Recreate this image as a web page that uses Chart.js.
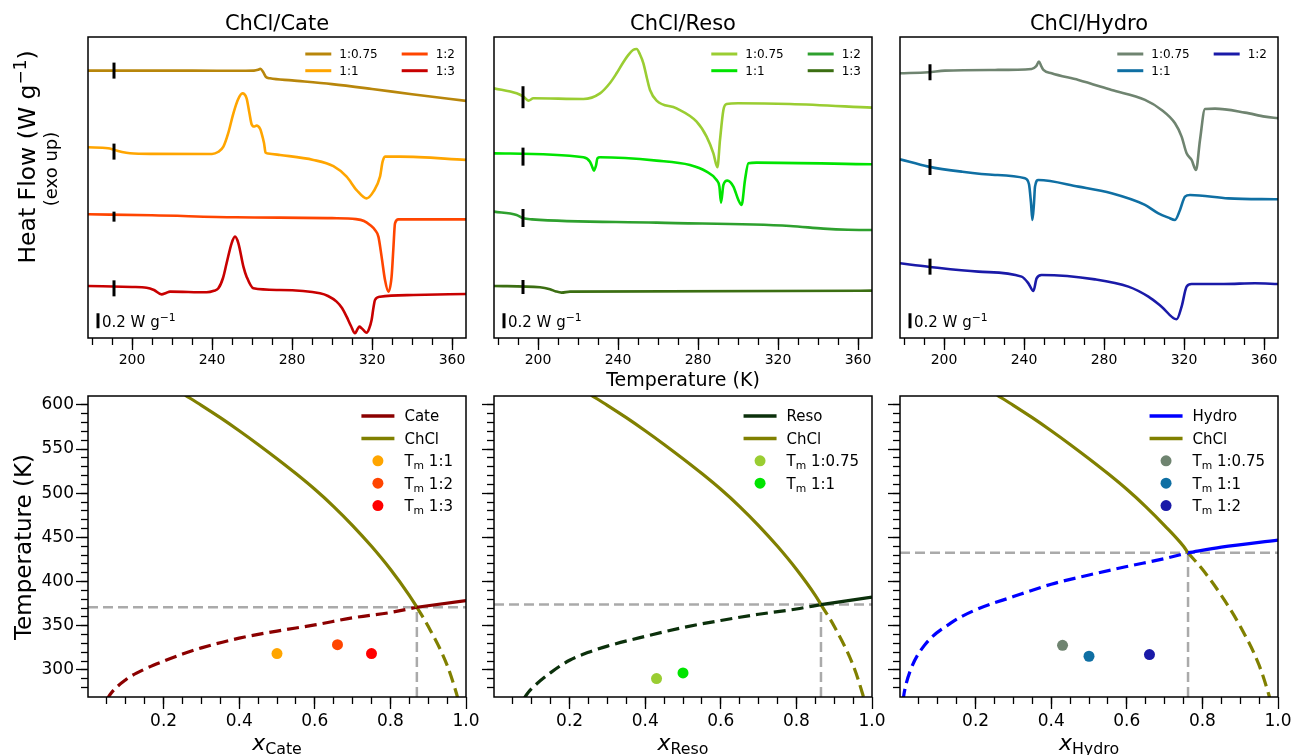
<!DOCTYPE html>
<html>
<head>
<meta charset="utf-8">
<script src="https://cdn.jsdelivr.net/npm/chart.js@4.4.1/dist/chart.umd.min.js"></script>
<style>
  body { margin: 0; background: #fff; width: 1293px; height: 755px; overflow: hidden; position: relative; }
  .panel { position: absolute; }
</style>
</head>
<body>
<script>
// ---- tick positions ----
const tempMajor = [200, 240, 280, 320, 360];
const tempMinor = [180, 190, 200, 210, 220, 230, 240, 250, 260, 270, 280, 290, 300, 310, 320, 330, 340, 350, 360];
const xMajor = [0.2, 0.4, 0.6, 0.8, 1.0];
const xMinor = [0.05, 0.1, 0.15, 0.2, 0.25, 0.3, 0.35, 0.4, 0.45, 0.5, 0.55, 0.6, 0.65, 0.7, 0.75, 0.8, 0.85, 0.9, 0.95];
const tMajor = [300, 350, 400, 450, 500, 550, 600];
const tMinor = [280, 290, 300, 310, 320, 330, 340, 350, 360, 370, 380, 390, 400, 410, 420, 430, 440, 450,
                460, 470, 480, 490, 500, 510, 520, 530, 540, 550, 560, 570, 580, 590, 600];

// ---- DSC traces: [T (K), heat flow (W/g, stacked offset)] ----
const cateRatios = ['1:0.75', '1:1', '1:2', '1:3'];
const cate075 = [[178,3.565],[200,3.565],[230,3.565],[255,3.563],[261,3.565],[263,3.575],[264.2,3.59],[265.5,3.55],
  [267,3.48],[269,3.462],[280,3.435],[300,3.385],[320,3.32],[340,3.25],[367.5,3.16]];
const cate11 = [[178,2.543],[188,2.53],[191,2.51],[195,2.48],[199,2.463],[210,2.455],[240,2.454],[243,2.48],[245.7,2.551],
  [248,2.72],[250.7,2.996],[253,3.18],[255.2,3.262],[257.3,3.196],[258.7,3.0],[259.8,2.85],[261,2.82],[262.3,2.831],
  [264,2.79],[264.8,2.729],[266,2.6],[266.8,2.471],[268,2.46],[274,2.44],[290.7,2.374],[300.7,2.29],[307.3,2.151],
  [312.3,1.973],[317.3,1.862],[320.7,1.951],[324,2.151],[325.3,2.351],[326.5,2.418],[334,2.418],[367.5,2.374]];
const cate12 = [[178,1.649],[210,1.636],[252,1.609],[300,1.598],[312,1.585],[316,1.56],[319,1.507],[321.5,1.44],
  [323.2,1.351],[324.8,1.085],[326.5,0.774],[328.2,0.618],[329.8,0.818],[330.7,1.2],[331.5,1.529],[333.2,1.582],[367.5,1.582]];
const cate13 = [[178,0.694],[200,0.68],[207.3,0.671],[211,0.64],[214.8,0.582],[217,0.6],[219,0.618],[237.3,0.609],
  [241,0.63],[243.2,0.662],[245.5,0.8],[247.3,0.996],[249.8,1.262],[251.5,1.351],[253.2,1.262],[255.7,0.951],
  [257.3,0.818],[260.7,0.662],[274,0.64],[294,0.596],[298,0.56],[302.3,0.485],[305,0.4],[307.3,0.285],[309.5,0.16],
  [311.5,0.063],[312.8,0.12],[313.7,0.151],[314.8,0.13],[315.7,0.107],[317.3,0.071],[318.5,0.12],[319.8,0.24],
  [320.7,0.4],[321.5,0.507],[324,0.551],[340.7,0.573],[367.5,0.587]];
const cateMarkT = 191;
const cateMarkQ = [3.565, 2.485, 1.618, 0.662];

const resoRatios = ['1:0.75', '1:1', '1:2', '1:3'];
const reso075 = [[178,3.329],[189.3,3.262],[192.7,3.218],[195.2,3.165],[197.7,3.196],[222.7,3.187],[231,3.262],[236,3.4],
  [239.3,3.529],[242.5,3.67],[245.2,3.774],[247.5,3.84],[249.3,3.853],[251,3.78],[252.7,3.662],[254.5,3.46],[256,3.307],
  [259.3,3.165],[269.3,3.062],[279.3,2.885],[284.3,2.685],[287.7,2.462],[289.7,2.276],[291,2.64],[292.7,3.04],
  [294.3,3.12],[300,3.13],[326,3.12],[367,3.071]];
const reso11 = [[178,2.462],[222.7,2.409],[226,2.351],[227,2.29],[228,2.231],[229,2.3],[229.7,2.396],[231,2.409],
  [259.3,2.365],[276,2.307],[284.3,2.218],[289.3,2.107],[290.7,2.018],[291.5,1.805],[292.7,2.04],[294.7,2.098],
  [297.7,2.018],[300.2,1.84],[301.8,1.773],[303.5,2.107],[305.2,2.329],[309.3,2.338],[367,2.316]];
const reso12 = [[178,1.685],[189.3,1.64],[192.7,1.596],[197,1.582],[259.3,1.538],[326,1.494],[342.7,1.458],[355,1.443],[367,1.44]];
const reso13 = [[178,0.694],[201,0.676],[206,0.65],[209,0.62],[211.8,0.605],[216,0.618],[367,0.631]];
const resoMarkT = 192.5;
const resoMarkQ = [3.21, 2.418, 1.6, 0.68];

const hydroRatios = ['1:0.75', '1:1', '1:2'];
const hydro075 = [[178,3.529],[192.2,3.543],[200.5,3.565],[225.5,3.574],[243.8,3.587],[246,3.62],[247.5,3.685],[248.7,3.62],
  [249.7,3.574],[253.8,3.529],[267.2,3.44],[283.8,3.307],[300.5,3.174],[308.8,3.04],[315.5,2.862],[318.8,2.685],
  [321.3,2.462],[323.8,2.374],[326,2.24],[328,2.64],[330.5,3.054],[335.5,3.058],[350.5,3.005],[360.5,2.951],[367,2.929]];
const hydro11 = [[178,2.382],[192.2,2.285],[208.8,2.218],[225.5,2.174],[240.5,2.129],[242.5,2.05],[243.5,1.8],[244.2,1.574],
  [245,1.8],[245.5,2.018],[247.2,2.107],[267.2,2.018],[283.8,1.929],[300.5,1.774],[307.2,1.662],[312.2,1.605],
  [315.5,1.574],[318,1.707],[320.5,1.885],[323,1.907],[342.2,1.862],[367,1.849]];
const hydro12 = [[178,0.996],[192.2,0.951],[217.2,0.885],[238.8,0.818],[242.2,0.729],[244.7,0.627],[246.3,0.796],
  [248.8,0.84],[275.5,0.782],[292.2,0.685],[302.2,0.551],[308.8,0.418],[316.3,0.249],[318.8,0.418],[321.3,0.685],
  [323.8,0.72],[340,0.72],[355.5,0.729],[367,0.72]];
const hydroMarkT = 193;
const hydroMarkQ = [3.543, 2.28, 0.951];

// 0.2 W/g scale bar
const barT = 183;
const barLo = 0.13;
const barSize = 0.2;

// ---- solid-liquid equilibria: [x_HBD, T (K)] ----
const chclLiq = [[0.257,611],[0.3,599.5],[0.35,585.5],[0.4,570.7],[0.45,555.2],[0.5,539],[0.55,522.2],[0.6,504.4],
  [0.65,484.9],[0.7,463.4],[0.75,439.9],[0.8,413.9],[0.85,384.4],[0.9,349.4],[0.95,305.4],[0.975,273],[0.985,257]];
const cateLiq = [[0.05,266],[0.058,272],[0.1,289],[0.15,301],[0.2,310],[0.25,318],[0.3,325],[0.4,336],[0.5,344],[0.6,351],
  [0.7,359],[0.8,365],[1.0,378.5]];
const resoLiq = [[0.08,268],[0.086,272],[0.1,279],[0.15,297],[0.2,311],[0.25,320],[0.3,327],[0.4,338],[0.5,348],[0.6,356],
  [0.7,363],[0.8,369],[1.0,382.5]];
const hydroLiq = [[0.008,265],[0.011,274],[0.028,300],[0.063,327],[0.134,353],[0.2,368],[0.3,383],[0.4,397],[0.5,407.5],
  [0.6,417],[0.7,426],[0.85,439],[1.0,447]];
const cateEu = { x: 0.87, T: 371 };
const resoEu = { x: 0.865, T: 374 };
const hydroEu = { x: 0.762, T: 432.5 };
const cateTm = [[0.5,318.5],[0.66,328.6],[0.75,318.5]];
const cateTmRatios = ['1:1', '1:2', '1:3'];
const resoTm = [[0.43,290.2],[0.5,296.6]];
const resoTmRatios = ['1:0.75', '1:1'];
const hydroTm = [[0.43,327.9],[0.5,315.5],[0.66,317.4]];
const hydroTmRatios = ['1:0.75', '1:1', '1:2'];

// ---- colours ----
const cateColors = ['#B8860B', '#FFA500', '#FF4500', '#C80000'];
const resoColors = ['#9ACD32', '#00E400', '#2EA02E', '#3B6E12'];
const hydroColors = ['#6F8470', '#0F6FA3', '#1A1AA8'];
const chclColor = '#808000';

Chart.defaults.font.family = '"DejaVu Sans", sans-serif';
const PW = 378, PH = 301;
const colX = [88, 494, 900];
const T_MIN = 269.4, T_MAX = 610;

// rich text: "_{..}" subscript, "^{..}" superscript
function parseRich(s) {
  const out = [];
  const re = /([_^])\{([^}]*)\}/g;
  let last = 0, m;
  while ((m = re.exec(s))) {
    if (m.index > last) out.push({ t: s.slice(last, m.index) });
    out.push({ t: m[2], sub: m[1] === '_', sup: m[1] === '^' });
    last = re.lastIndex;
  }
  if (last < s.length) out.push({ t: s.slice(last) });
  return out;
}
function partFont(p, size) {
  const s = (p.sub || p.sup) ? size * 0.72 : size;
  return (p.it ? 'italic ' : '') + s + 'px "DejaVu Sans"';
}
function richWidth(ctx, parts, size) {
  let w = 0;
  parts.forEach(p => { ctx.font = partFont(p, size); w += ctx.measureText(p.t).width; });
  return w;
}
function drawRich(ctx, parts, x, y, size, align) {
  const w = richWidth(ctx, parts, size);
  let cx = align === 'center' ? x - w / 2 : align === 'right' ? x - w : x;
  ctx.textAlign = 'left';
  ctx.textBaseline = 'alphabetic';
  parts.forEach(p => {
    ctx.font = partFont(p, size);
    const dy = p.sub ? size * 0.2 : p.sup ? -size * 0.4 : 0;
    ctx.fillText(p.t, cx, y + dy);
    cx += ctx.measureText(p.t).width;
  });
}

// frame, free text and in-axes legend
const deco = {
  id: 'deco',
  afterDraw(chart, args, o) {
    const ctx = chart.ctx, a = chart.chartArea;
    ctx.save();
    ctx.strokeStyle = '#000';
    ctx.lineWidth = 1.5;
    ctx.setLineDash([]);
    ctx.strokeRect(a.left, a.top, a.right - a.left, a.bottom - a.top);
    ctx.fillStyle = '#000';
    (o.notes || []).forEach(n => {
      const parts = typeof n.text === 'string' ? parseRich(n.text) : n.text;
      ctx.save();
      ctx.translate(a.left + n.x, a.top + n.y);
      if (n.rot) ctx.rotate(-Math.PI / 2);
      drawRich(ctx, parts, 0, 0, n.size, n.align || 'center');
      ctx.restore();
    });
    const lg = o.legend;
    if (lg) {
      const items = chart.data.datasets.filter(d => d.legendLabel);
      const rows = Math.ceil(items.length / lg.cols);
      const cols = [];
      for (let c = 0; c < lg.cols; c++) cols.push(items.slice(c * rows, (c + 1) * rows));
      const widths = cols.map(col => lg.lineLen + lg.gap +
        Math.max(...col.map(d => richWidth(ctx, parseRich(d.legendLabel), lg.size))));
      let x = a.right - lg.right - widths.reduce((s, w) => s + w, 0) - lg.colGap * (lg.cols - 1);
      cols.forEach((col, c) => {
        col.forEach((d, r) => {
          const y = a.top + lg.top + r * lg.rowH;
          if (d.showLine) {
            ctx.strokeStyle = d.borderColor;
            ctx.lineWidth = lg.lineWidth;
            ctx.beginPath(); ctx.moveTo(x, y); ctx.lineTo(x + lg.lineLen, y); ctx.stroke();
          } else {
            ctx.fillStyle = d.pointBackgroundColor;
            ctx.beginPath(); ctx.arc(x + lg.lineLen / 2, y, lg.dot, 0, Math.PI * 2); ctx.fill();
          }
          ctx.fillStyle = '#000';
          drawRich(ctx, parseRich(d.legendLabel), x + lg.lineLen + lg.gap, y + lg.size * 0.36, lg.size, 'left');
        });
        x += widths[c] + lg.colGap;
      });
    }
    ctx.restore();
  }
};

// major axis with labels + minor axis with short ticks
function axisPair(id, pos, min, max, major, minor, labelFn, fit, majLen, minLen, size) {
  const grid = { display: true, drawOnChartArea: false, drawTicks: true, color: '#000', tickColor: '#000', tickWidth: 1.3 };
  const setFit = v => s => { if (pos === 'bottom') s.height = v; else s.width = v; };
  return {
    [id]: {
      type: 'linear', position: pos, min, max, weight: 1,
      border: { display: false },
      grid: Object.assign({}, grid, { tickLength: majLen }),
      ticks: { display: !!labelFn, callback: labelFn || (() => ''), color: '#000', padding: 2,
               maxRotation: 0, autoSkip: false, font: { size } },
      afterBuildTicks: s => { s.ticks = major.map(v => ({ value: v })); },
      afterFit: setFit(fit)
    },
    [id + 'm']: {
      type: 'linear', position: pos, min, max, weight: 0,
      border: { display: false },
      grid: Object.assign({}, grid, { tickLength: minLen }),
      ticks: { display: false },
      afterBuildTicks: s => { s.ticks = minor.map(v => ({ value: v })); },
      afterFit: setFit(0)
    }
  };
}

const P = arr => arr.map(p => ({ x: p[0], y: p[1] }));
const line = (arr, color, extra) => Object.assign({
  data: P(arr), showLine: true, borderColor: color, backgroundColor: color,
  borderWidth: 2.6, pointRadius: 0, cubicInterpolationMode: 'monotone', order: 1
}, extra || {});
const straight = { cubicInterpolationMode: 'default', tension: 0 };

function dscSets(traces, colors, ratios, markT, markQ, markR) {
  const sets = [{
    data: markQ.map(q => ({ x: markT, y: q })), showLine: false, pointStyle: 'line', pointRotation: 90,
    pointRadius: markR, pointBorderColor: '#000', pointBorderWidth: 3, order: 0
  }];
  traces.forEach((t, i) => sets.push(line(t, colors[i], { legendLabel: ratios[i] })));
  sets.push(line([[barT, barLo], [barT, barLo + barSize]], '#000', Object.assign({ borderWidth: 3, order: 0 }, straight)));
  return sets;
}

function sldSets(liq, color, name, eu, tm, tmColors, tmRatios) {
  const w = 3.2, dash = [12, 6];
  const liqDash = liq.filter(p => p[0] < eu.x).concat([[eu.x, eu.T]]);
  const liqSolid = [[eu.x, eu.T]].concat(liq.filter(p => p[0] > eu.x));
  const chSolid = chclLiq.filter(p => p[0] < eu.x).concat([[eu.x, eu.T]]);
  const chDash = [[eu.x, eu.T]].concat(chclLiq.filter(p => p[0] > eu.x));
  const sets = [
    line(liqSolid, color, { borderWidth: w, legendLabel: name }),
    line(chSolid, chclColor, { borderWidth: w, legendLabel: 'ChCl' })
  ];
  tm.forEach((p, i) => sets.push({
    data: P([p]), showLine: false, pointRadius: 5.5, pointBackgroundColor: tmColors[i],
    pointBorderWidth: 0, legendLabel: 'T_{m} ' + tmRatios[i], order: 0
  }));
  sets.push(line(liqDash, color, { borderWidth: w, borderDash: dash }));
  sets.push(line(chDash, chclColor, { borderWidth: w, borderDash: dash }));
  const guide = Object.assign({ borderWidth: 2.5, borderDash: [10, 5], order: 3 }, straight);
  sets.push(line([[0, eu.T], [1, eu.T]], '#AAAAAA', guide));
  sets.push(line([[eu.x, T_MIN], [eu.x, eu.T]], '#AAAAAA', guide));
  return sets;
}

function panel(col, row, datasets, scales, notes, legend) {
  const m = row === 0 ? { l: 80, r: 16, t: 37, b: 52 } : { l: 80, r: 16, t: 20, b: 58 };
  const top = row === 0 ? 37 : 396;
  const W = m.l + PW + m.r, H = m.t + PH + m.b;
  const div = document.createElement('div');
  div.className = 'panel';
  div.style.left = (colX[col] - m.l) + 'px';
  div.style.top = (top - m.t) + 'px';
  div.style.width = W + 'px';
  div.style.height = H + 'px';
  const cv = document.createElement('canvas');
  cv.width = W; cv.height = H;
  cv.style.width = W + 'px'; cv.style.height = H + 'px';
  div.appendChild(cv);
  document.body.appendChild(div);
  new Chart(cv, {
    type: 'scatter',
    data: { datasets },
    options: {
      responsive: false,
      animation: false,
      layout: { padding: { left: 0, right: m.r, top: m.t, bottom: 0 } },
      scales,
      plugins: { legend: { display: false }, tooltip: { enabled: false }, deco: { notes, legend } }
    },
    plugins: [deco]
  });
}

function topScales() {
  return Object.assign({},
    axisPair('x', 'bottom', 178, 367, tempMajor, tempMinor, v => String(v), 52, 12, 7, 14),
    { y: { type: 'linear', min: 0, max: 4.013, ticks: { display: false }, grid: { display: false },
           border: { display: false }, afterFit: s => { s.width = 80; } } });
}
function bottomScales(yLabels) {
  return Object.assign({},
    axisPair('x', 'bottom', 0, 1, xMajor, xMinor, v => v.toFixed(1), 58, 12, 7, 17),
    axisPair('y', 'left', T_MIN, T_MAX, tMajor, tMinor, yLabels ? (v => String(v)) : null, 80, 12, 7, 17));
}

const topLegend = { cols: 2, right: 11, top: 17, rowH: 16.7, size: 12, lineLen: 26, gap: 8, colGap: 24, lineWidth: 3, dot: 4 };
const botLegend = { cols: 1, right: 13, top: 20, rowH: 22.4, size: 15, lineLen: 33, gap: 10, colGap: 0, lineWidth: 3.5, dot: 5.5 };
const barNote = { text: '0.2 W g^{\u22121}', x: 14, y: 290, size: 15, align: 'left' };

// ---- top row: DSC ----
panel(0, 0, dscSets([cate075, cate11, cate12, cate13], cateColors, cateRatios, cateMarkT, cateMarkQ, [8, 8, 5, 8]),
  topScales(), [
    { text: 'ChCl/Cate', x: PW / 2, y: -7, size: 21 },
    { text: 'Heat Flow (W g^{\u22121})', x: -53, y: 120, size: 23.5, rot: true },
    { text: '(exo up)', x: -31, y: 132, size: 18, rot: true },
    barNote
  ], topLegend);

panel(1, 0, dscSets([reso075, reso11, reso12, reso13], resoColors, resoRatios, resoMarkT, resoMarkQ, [11, 9, 9, 7]),
  topScales(), [
    { text: 'ChCl/Reso', x: PW / 2, y: -7, size: 21 },
    { text: 'Temperature (K)', x: PW / 2, y: 349, size: 19 },
    barNote
  ], topLegend);

panel(2, 0, dscSets([hydro075, hydro11, hydro12], hydroColors, hydroRatios, hydroMarkT, hydroMarkQ, [8, 8, 8]),
  topScales(), [
    { text: 'ChCl/Hydro', x: PW / 2, y: -7, size: 21 },
    barNote
  ], topLegend);

// ---- bottom row: solid-liquid phase diagrams ----
const xLabel = name => [{ t: 'x', it: true }, { t: name, sub: true }];

panel(0, 1, sldSets(cateLiq, '#8B0000', 'Cate', cateEu, cateTm, ['#FFA500', '#FF4500', '#FF0000'], cateTmRatios),
  bottomScales(true), [
    { text: 'Temperature (K)', x: -57, y: 151, size: 23, rot: true },
    { text: xLabel('Cate'), x: PW / 2, y: 354, size: 22 }
  ], botLegend);

panel(1, 1, sldSets(resoLiq, '#0B300B', 'Reso', resoEu, resoTm, ['#9ACD32', '#00E400'], resoTmRatios),
  bottomScales(false), [
    { text: xLabel('Reso'), x: PW / 2, y: 354, size: 22 }
  ], botLegend);

panel(2, 1, sldSets(hydroLiq, '#0000FF', 'Hydro', hydroEu, hydroTm, hydroColors, hydroTmRatios),
  bottomScales(false), [
    { text: xLabel('Hydro'), x: PW / 2, y: 354, size: 22 }
  ], botLegend);
</script>
</body>
</html>
